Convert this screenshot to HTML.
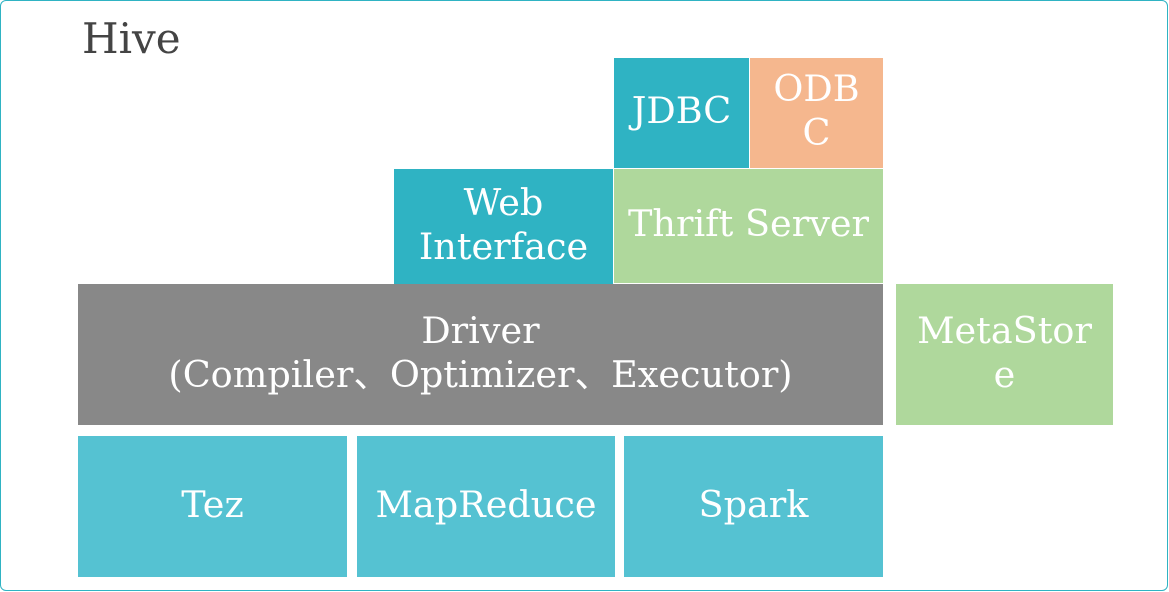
<!DOCTYPE html>
<html><head><meta charset="utf-8"><style>
body{margin:0;width:1169px;height:592px;background:#fff;position:relative;overflow:hidden;font-family:"DejaVu Serif","Liberation Serif",serif;}
.o{position:absolute;left:0;top:0;width:1166px;height:589px;border:1px solid #2fb3c3;border-radius:6px;}
.b{position:absolute;display:flex;align-items:center;justify-content:center;text-align:center;color:#fff;font-size:36.6px;line-height:44px;padding-bottom:4px;box-sizing:border-box;}
</style></head><body>
<div class="o"></div>
<div style="position:absolute;left:82px;top:14px;font-size:42px;color:#444;">Hive</div>
<div class="b" style="left:614px;top:58px;width:135px;height:110px;background:#2fb3c3">JDBC</div>
<div class="b" style="left:750px;top:58px;width:133px;height:110px;background:#f5b78e">ODB<br>C</div>
<div class="b" style="left:394px;top:169px;width:219px;height:115px;background:#2fb3c3">Web<br>Interface</div>
<div class="b" style="left:614px;top:169px;width:269px;height:114px;background:#afd89c">Thrift Server</div>
<div class="b" style="left:78px;top:284px;width:805px;height:141px;background:#888">Driver<br>(Compiler、Optimizer、Executor)</div>
<div class="b" style="left:896px;top:284px;width:217px;height:141px;background:#afd89c">MetaStor<br>e</div>
<div class="b" style="left:78px;top:436px;width:269px;height:141px;background:#55c2d2">Tez</div>
<div class="b" style="left:357px;top:436px;width:258px;height:141px;background:#55c2d2">MapReduce</div>
<div class="b" style="left:624px;top:436px;width:259px;height:141px;background:#55c2d2">Spark</div>
</body></html>
